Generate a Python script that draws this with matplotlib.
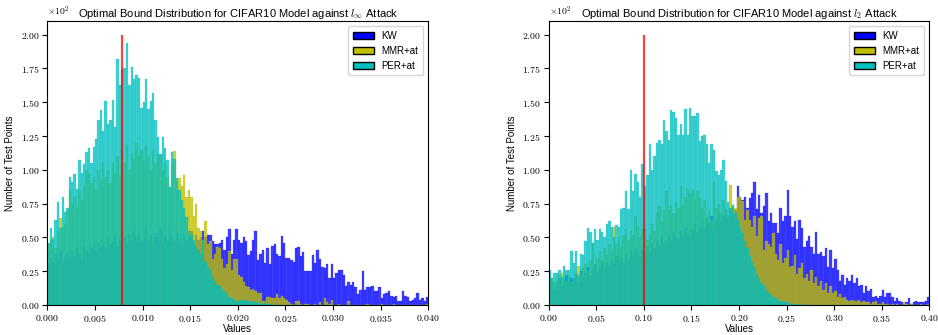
import matplotlib
matplotlib.use("Agg")
import matplotlib.pyplot as plt
import numpy as np
from matplotlib.ticker import FuncFormatter
from matplotlib.patches import Patch

plt.rcParams['font.family'] = ['Liberation Sans', 'DejaVu Sans']
plt.rcParams['mathtext.fontset'] = 'cm'

# bin counts (160 bins each)
# left panel: l_inf, range 0 .. 0.04
kw_inf = [30, 35, 32, 38, 34, 40, 33, 36, 38, 35,
          40, 36, 42, 38, 35, 44, 40, 37, 42, 45,
          40, 46, 43, 48, 42, 50, 45, 47, 52, 44,
          48, 55, 50, 46, 52, 48, 55, 50, 53, 47,
          50, 55, 48, 52, 46, 53, 50, 57, 45, 52,
          48, 55, 50, 47, 53, 49, 45, 52, 48, 50,
          55, 46, 52, 48, 50, 55, 50, 52, 52, 47,
          45, 45, 46, 48, 41, 50, 56, 38, 48, 56,
          48, 46, 50, 47, 37, 40, 48, 55, 33, 38,
          41, 31, 42, 30, 44, 45, 38, 36, 51, 46,
          35, 35, 33, 32, 42, 43, 36, 39, 25, 25,
          25, 37, 31, 41, 34, 28, 27, 30, 20, 30,
          20, 24, 26, 26, 22, 14, 17, 15, 17, 13,
          8, 11, 25, 11, 13, 13, 14, 10, 10, 13,
          5, 8, 9, 10, 7, 6, 7, 3, 3, 10,
          7, 6, 3, 4, 5, 9, 4, 5, 3, 6]
mmr_inf = [45, 48, 50, 42, 55, 64, 58, 60, 70, 85,
           75, 80, 72, 85, 78, 88, 100, 98, 90, 95,
           85, 100, 92, 105, 95, 100, 90, 105, 98, 110,
           95, 115, 105, 118, 100, 112, 108, 120, 110, 115,
           107, 118, 110, 100, 115, 105, 112, 111, 100, 105,
           95, 87, 105, 114, 92, 94, 88, 96, 80, 85,
           80, 66, 75, 57, 55, 48, 62, 45, 47, 34,
           38, 43, 42, 34, 27, 30, 40, 26, 34, 34,
           22, 21, 17, 14, 13, 11, 12, 10, 9, 9,
           3, 3, 6, 6, 5, 5, 8, 5, 7, 5,
           4, 2, 1, 0, 3, 3, 1, 0, 1, 1,
           0, 0, 1, 0, 2, 0, 5, 2, 1, 4,
           0, 0, 1, 0, 0, 0, 3, 0, 0, 0,
           0, 0, 0, 0, 1, 0, 0, 0, 0, 0,
           1, 0, 0, 0, 0, 1, 0, 0, 0, 0,
           0, 0, 0, 0, 0, 0, 0, 0, 0, 1]
per_inf = [46, 57, 49, 63, 76, 57, 80, 69, 72, 95,
           91, 97, 86, 107, 98, 104, 113, 116, 105, 117,
           123, 137, 144, 129, 151, 134, 137, 152, 132, 182,
           163, 174, 175, 194, 163, 176, 167, 170, 168, 146,
           150, 167, 145, 151, 157, 137, 124, 112, 124, 116,
           107, 87, 113, 108, 94, 85, 78, 72, 65, 55,
           52, 48, 43, 41, 38, 48, 32, 28, 26, 21,
           18, 15, 14, 12, 10, 9, 6, 5, 4, 3,
           3, 4, 3, 4, 3, 2, 3, 2, 2, 1,
           1, 2, 1, 1, 0, 0, 1, 0, 0, 0,
           0, 0, 0, 0, 0, 0, 0, 0, 0, 0,
           0, 0, 0, 0, 0, 0, 0, 0, 0, 0,
           0, 0, 0, 0, 0, 0, 0, 0, 0, 0,
           0, 0, 0, 0, 0, 0, 0, 0, 0, 0,
           0, 0, 0, 0, 0, 0, 0, 0, 0, 0,
           0, 0, 0, 0, 0, 0, 0, 0, 0, 0]

# right panel: l_2, range 0 .. 0.4
kw_l2 = [15, 18, 12, 16, 20, 14, 18, 22, 17, 20,
         19, 23, 18, 25, 21, 24, 28, 22, 26, 30,
         25, 28, 32, 27, 31, 29, 34, 30, 36, 33,
         35, 31, 38, 34, 40, 36, 42, 38, 35, 41,
         39, 44, 40, 46, 42, 48, 44, 50, 45, 47,
         52, 48, 54, 50, 49, 55, 51, 57, 53, 50,
         56, 60, 54, 58, 62, 57, 64, 60, 66, 58,
         63, 68, 61, 66, 70, 64, 72, 68, 70, 88,
         80, 78, 80, 72, 79, 83, 91, 71, 81, 68,
         73, 83, 62, 68, 61, 61, 53, 72, 62, 66,
         85, 66, 58, 62, 49, 63, 57, 43, 47, 51,
         43, 38, 54, 38, 39, 36, 42, 28, 41, 27,
         34, 26, 18, 22, 15, 20, 18, 22, 16, 20,
         14, 15, 9, 14, 10, 12, 6, 7, 5, 7,
         11, 6, 9, 9, 6, 3, 5, 3, 2, 1,
         2, 5, 1, 2, 3, 2, 2, 2, 3, 6]
mmr_l2 = [24, 20, 17, 18, 22, 24, 20, 18, 22, 17,
          20, 24, 29, 22, 27, 30, 25, 33, 46, 30,
          35, 40, 33, 42, 37, 45, 40, 58, 45, 50,
          43, 52, 56, 48, 55, 52, 66, 58, 50, 56,
          56, 48, 52, 60, 55, 68, 73, 62, 70, 84,
          70, 74, 68, 76, 72, 88, 74, 80, 86, 82,
          85, 78, 84, 80, 72, 78, 65, 70, 63, 91,
          72, 75, 68, 78, 70, 66, 89, 74, 72, 80,
          80, 77, 63, 70, 63, 58, 66, 51, 64, 66,
          41, 47, 45, 43, 53, 38, 33, 45, 31, 35,
          41, 28, 29, 37, 23, 27, 31, 20, 23, 18,
          26, 16, 21, 14, 18, 11, 16, 9, 14, 9,
          10, 6, 8, 5, 6, 4, 3, 4, 3, 3,
          4, 2, 3, 2, 2, 1, 2, 3, 1, 1,
          2, 1, 1, 0, 1, 0, 1, 0, 0, 2,
          1, 0, 1, 0, 0, 0, 1, 0, 0, 1]
per_l2 = [26, 20, 24, 24, 26, 21, 29, 26, 26, 40,
          31, 40, 22, 38, 37, 47, 57, 54, 46, 56,
          48, 56, 54, 50, 60, 62, 58, 50, 59, 58,
          71, 72, 84, 71, 100, 84, 97, 91, 80, 104,
          88, 96, 119, 100, 110, 120, 122, 119, 137, 129,
          122, 144, 143, 138, 126, 134, 126, 145, 126, 146,
          140, 140, 142, 121, 125, 126, 119, 105, 119, 115,
          99, 96, 100, 107, 92, 76, 72, 74, 68, 63,
          58, 53, 47, 42, 36, 32, 28, 23, 20, 16,
          14, 11, 9, 8, 6, 5, 4, 3, 3, 2,
          2, 1, 1, 1, 0, 1, 0, 1, 0, 0,
          0, 0, 0, 0, 0, 0, 0, 0, 0, 0,
          0, 0, 0, 0, 0, 0, 0, 0, 0, 0,
          0, 0, 0, 0, 0, 0, 0, 0, 0, 0,
          0, 0, 0, 0, 0, 0, 0, 0, 0, 0,
          0, 0, 0, 0, 0, 0, 0, 0, 0, 0]

labels = ["KW", "MMR+at", "PER+at"]
colors = ["b", "y", "c"]
panels = [
    dict(kw=kw_inf, mmr=mmr_inf, per=per_inf, xmax=0.04, thr=0.0078,
         title=r"Optimal Bound Distribution for CIFAR10 Model against $l_\infty$ Attack",
         fmt="%.3f", xticks=np.arange(0, 0.0401, 0.005)),
    dict(kw=kw_l2, mmr=mmr_l2, per=per_l2, xmax=0.4, thr=0.10,
         title=r"Optimal Bound Distribution for CIFAR10 Model against $l_2$ Attack",
         fmt="%.2f", xticks=np.arange(0, 0.401, 0.05)),
]

fig = plt.figure(figsize=(9.38, 3.35), dpi=100)
axes = [fig.add_axes([0.0504, 0.0896, 0.4062, 0.8474]),
        fig.add_axes([0.585, 0.0896, 0.4057, 0.8474])]

for ax, p in zip(axes, panels):
    edges = np.linspace(0, p["xmax"], len(p["kw"]) + 1)
    for series, col, lab in zip([p["kw"], p["mmr"], p["per"]], colors, labels):
        ax.hist(edges[:-1], bins=edges, weights=series, color=col, alpha=0.75,
                label=lab, edgecolor=col, linewidth=0.2)
    ax.vlines(p["thr"], 0, 200, colors="r", alpha=0.75, linewidth=1.6)
    ax.set_xlim(0, p["xmax"])
    ax.set_ylim(0, 210)
    ax.set_xticks(p["xticks"])
    ax.set_yticks(np.arange(0, 201, 25))
    f = p["fmt"]
    ax.xaxis.set_major_formatter(FuncFormatter(lambda v, pos, f=f: "$" + (f % v) + "$"))
    ax.yaxis.set_major_formatter(FuncFormatter(lambda v, pos: "$%.2f$" % (v / 100)))
    ax.tick_params(labelsize=7, length=3.5, width=0.8, pad=2)
    ax.text(0, 1.01, r"$\times10^{2}$", transform=ax.transAxes, fontsize=7,
            ha="left", va="bottom")
    ax.set_title(p["title"], fontsize=8, pad=3)
    ax.set_xlabel("Values", fontsize=7, labelpad=0)
    ax.set_ylabel("Number of Test Points", fontsize=7, labelpad=4)
    handles = [Patch(facecolor=c, edgecolor="k", label=l) for c, l in zip(colors, labels)]
    ax.legend(handles=handles, loc="upper right", fontsize=7, handlelength=2.2,
              borderpad=0.5, labelspacing=0.5)

fig.savefig("out.png", dpi=100)
